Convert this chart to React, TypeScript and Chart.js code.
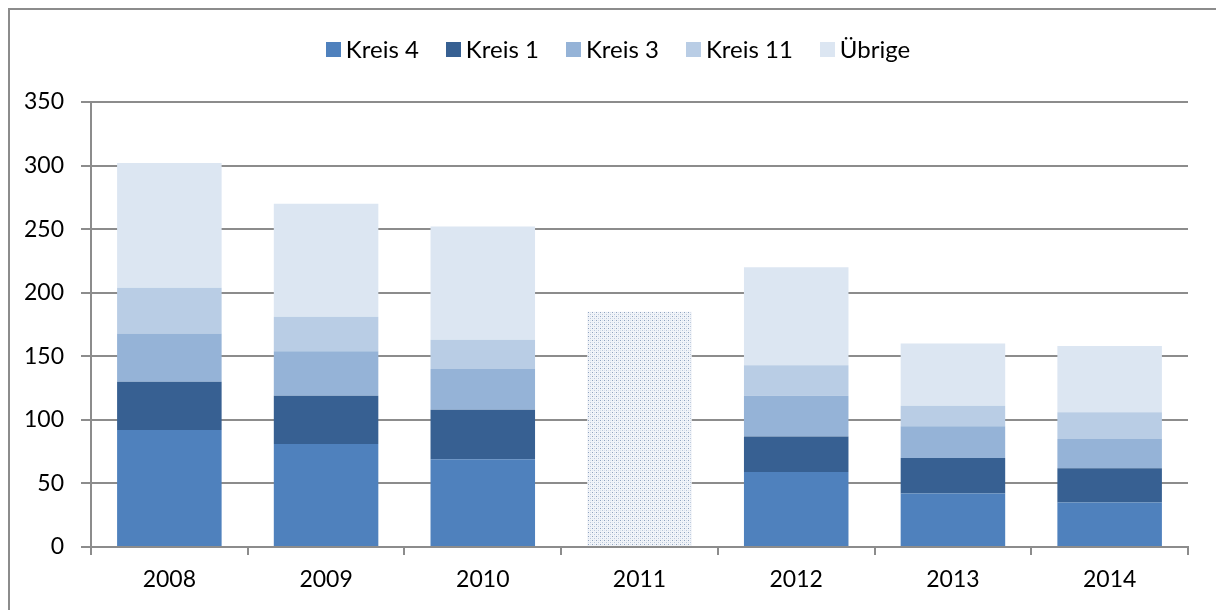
import React, { useEffect, useRef } from "react";
import { Chart, registerables } from "chart.js";

Chart.register(...registerables);

const years = ["2008", "2009", "2010", "2011", "2012", "2013", "2014"];
const kreis4 = [92, 81, 69, null, 59, 42, 35];
const kreis1 = [38, 38, 39, null, 28, 28, 27];
const kreis3 = [38, 35, 32, null, 32, 25, 23];
const kreis11 = [36, 27, 23, null, 24, 16, 21];
const uebrige = [98, 89, 89, null, 77, 49, 52];
const total2011 = [null, null, null, 185, null, null, null];

const seriesNames = ["Kreis 4", "Kreis 1", "Kreis 3", "Kreis 11", "Übrige"];
const seriesColors = ["#4F81BD", "#376092", "#95B3D7", "#B9CDE5", "#DCE6F2"];

const Y_MIN = 0;
const Y_MAX = 350;
const Y_STEP = 50;

const FONT = "Lato";
const GRID = "#8c8c8c";

function makePattern(): CanvasPattern | string {
  const c = document.createElement("canvas");
  c.width = 4;
  c.height = 4;
  const g = c.getContext("2d");
  if (!g) return "#dde4ee";
  g.fillStyle = "#f1f4f9";
  g.fillRect(0, 0, 4, 4);
  g.fillStyle = "#8fa3bf";
  g.fillRect(0, 0, 1, 1);
  g.fillStyle = "#b9c7da";
  g.fillRect(2, 2, 1, 1);
  g.fillStyle = "#dbe2ec";
  g.fillRect(2, 0, 1, 1);
  g.fillRect(0, 2, 1, 1);
  const p = g.createPattern(c, "repeat");
  return p || "#dde4ee";
}

const legendPlugin = {
  id: "excelLegend",
  afterDraw(chart: any) {
    const ctx: CanvasRenderingContext2D = chart.ctx;
    const box = 15;
    const boxGap = 5;
    const itemGap = 27;
    const centerX = 618;
    const centerY = 49.5;
    ctx.save();
    ctx.font = `24px ${FONT}`;
    ctx.textBaseline = "middle";
    ctx.textAlign = "left";
    const widths = seriesNames.map((n) => ctx.measureText(n).width);
    const total =
      widths.reduce((a, w) => a + box + boxGap + w, 0) + itemGap * (seriesNames.length - 1);
    let x = centerX - total / 2;
    seriesNames.forEach((name, i) => {
      ctx.fillStyle = seriesColors[i];
      ctx.fillRect(Math.round(x), Math.round(centerY - box / 2), box, box);
      ctx.fillStyle = "#000";
      ctx.fillText(name, x + box + boxGap, centerY + 1);
      x += box + boxGap + widths[i] + itemGap;
    });
    ctx.restore();
  },
};

export default function App() {
  const ref = useRef<HTMLCanvasElement | null>(null);

  useEffect(() => {
    if (!ref.current) return;
    const series = [kreis4, kreis1, kreis3, kreis11, uebrige];
    const datasets: any[] = series.map((d, i) => ({
      label: seriesNames[i],
      data: d,
      backgroundColor: seriesColors[i],
      borderWidth: 0,
      barPercentage: 0.667,
      categoryPercentage: 1,
      stack: "s",
    }));
    datasets.push({
      label: "2011",
      data: total2011,
      backgroundColor: makePattern(),
      borderWidth: 0,
      barPercentage: 0.667,
      categoryPercentage: 1,
      stack: "s",
    });

    const chart = new Chart(ref.current, {
      type: "bar",
      data: { labels: years, datasets },
      options: {
        animation: false,
        responsive: false,
        devicePixelRatio: 1,
        layout: { padding: { top: 102, right: 28, left: 0, bottom: 0 } },
        plugins: {
          legend: { display: false },
          tooltip: { enabled: false },
        },
        scales: {
          x: {
            stacked: true,
            offset: true,
            grid: {
              display: true,
              drawOnChartArea: false,
              drawTicks: true,
              tickLength: 8,
              color: GRID,
              lineWidth: 2,
              offset: true,
            },
            border: { display: true, color: GRID, width: 2 },
            ticks: {
              color: "#000",
              font: { family: FONT, size: 23 },
              padding: 11,
              maxRotation: 0,
            },
            afterFit: (scale: any) => {
              scale.height = 63;
            },
          },
          y: {
            stacked: true,
            min: Y_MIN,
            max: Y_MAX,
            ticks: {
              stepSize: Y_STEP,
              color: "#000",
              font: { family: FONT, size: 23 },
              padding: 17,
            },
            grid: {
              color: GRID,
              lineWidth: 2,
              tickLength: 10,
              drawTicks: true,
            },
            border: { display: true, color: GRID, width: 2 },
            afterFit: (scale: any) => {
              scale.width = 91;
            },
          },
        },
      },
      plugins: [legendPlugin],
    });
    return () => chart.destroy();
  }, []);

  return (
    <div style={{ position: "fixed", inset: 0, overflow: "hidden", background: "#fff" }}>
      <div
        style={{
          position: "absolute",
          left: 8,
          top: 8,
          width: 1300,
          height: 700,
          border: `2px solid ${GRID}`,
          boxSizing: "border-box",
        }}
      />
      <canvas
        ref={ref}
        width={1216}
        height={610}
        style={{ position: "absolute", left: 0, top: 0, width: 1216, height: 610 }}
      />
    </div>
  );
}
